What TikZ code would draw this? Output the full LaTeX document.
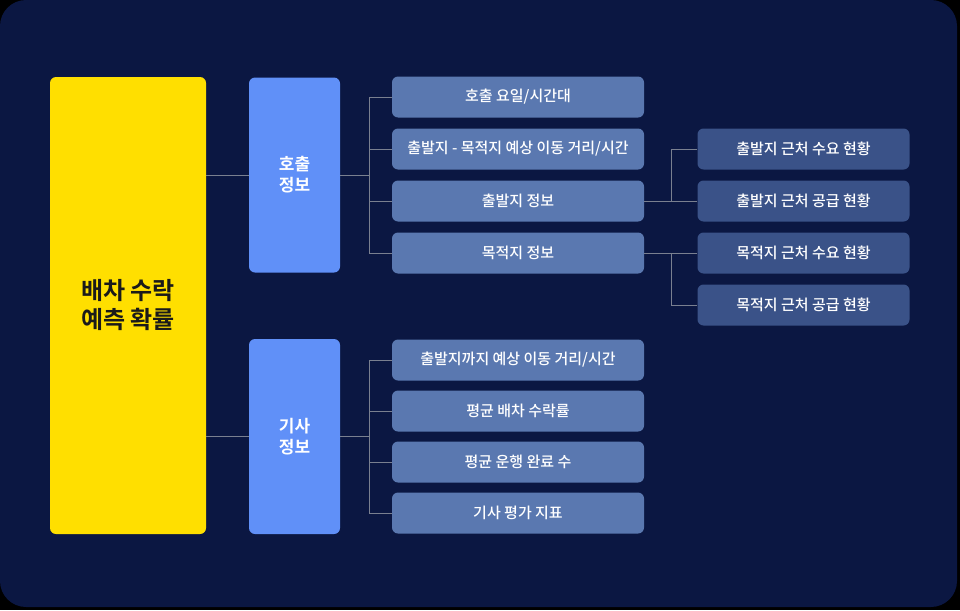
\documentclass[tikz,border=0pt]{standalone}
\usepackage{fontspec}
\usepackage{xcolor}
\usepackage{tikz}
\newfontfamily\krfont{Noto Sans CJK KR Medium}
\newfontfamily\krbold{Noto Sans CJK KR Bold}
\definecolor{navybg}{HTML}{0B1742}
\definecolor{targetyellow}{HTML}{FFDF00}
\definecolor{groupblue}{HTML}{6090F8}
\definecolor{featblue}{HTML}{5A78B0}
\definecolor{subblue}{HTML}{3A5288}
\definecolor{linkgray}{HTML}{7A8090}
\definecolor{darktext}{HTML}{1A1A1A}
\usetikzlibrary{positioning, calc}

\tikzset{
    targetbox/.style={fill=targetyellow, rounded corners=6pt, minimum width=156pt, minimum height=457pt,
        text=darktext, align=center, font=\krbold\fontsize{24}{29}\selectfont},
    groupbox/.style={fill=groupblue, rounded corners=6pt, minimum width=91pt, minimum height=195pt,
        text=white, align=center, font=\krbold\fontsize{17}{21}\selectfont},
    featbox/.style={fill=featblue, rounded corners=6pt, minimum width=252pt, minimum height=41pt,
        text=white, font=\krfont\fontsize{15}{18}\selectfont},
    subbox/.style={fill=subblue, rounded corners=6pt, minimum width=212pt, minimum height=41pt,
        text=white, font=\krfont\fontsize{15}{18}\selectfont},
    link/.style={draw=linkgray, line width=1pt}
}

\begin{document}
\begin{tikzpicture}[x=1pt, y=-1pt]
    % background
    \fill[black] (0,0) rectangle (960,610);
    \fill[navybg, rounded corners=26pt] (0,0) rectangle (957,607);
    \useasboundingbox (0,0) rectangle (960,610);

    % target
    \node[targetbox] (target) at (128,305.5) {배차 수락\\예측 확률};

    % groups
    \node[groupbox] (call) at (294.5,175) {호출\\정보};
    \node[groupbox] (driver) at (294.5,436.5) {기사\\정보};

    % call features
    \node[featbox] (c1) at (518,97) {호출 요일/시간대};
    \node[featbox] (c2) at (518,149) {출발지 - 목적지 예상 이동 거리/시간};
    \node[featbox] (c3) at (518,201) {출발지 정보};
    \node[featbox] (c4) at (518,253) {목적지 정보};

    % origin / destination details
    \node[subbox] (o1) at (803.5,149) {출발지 근처 수요 현황};
    \node[subbox] (o2) at (803.5,201) {출발지 근처 공급 현황};
    \node[subbox] (d1) at (803.5,253) {목적지 근처 수요 현황};
    \node[subbox] (d2) at (803.5,305) {목적지 근처 공급 현황};

    % driver features
    \node[featbox] (f1) at (518,360) {출발지까지 예상 이동 거리/시간};
    \node[featbox] (f2) at (518,411) {평균 배차 수락률};
    \node[featbox] (f3) at (518,462) {평균 운행 완료 수};
    \node[featbox] (f4) at (518,513) {기사 평가 지표};

    % links
    \draw[link] (target.east |- call.west) -- (call.west);
    \draw[link] (target.east |- driver.west) -- (driver.west);
    \foreach \n in {c1,c2,c3,c4}
        \draw[link] (call.east) -- ++(29,0) |- (\n.west);
    \foreach \n in {f1,f2,f3,f4}
        \draw[link] (driver.east) -- ++(29,0) |- (\n.west);
    \draw[link] (c3.east) -- ++(27,0) |- (o1.west);
    \draw[link] (c3.east) -- (o2.west);
    \draw[link] (c4.east) -- (d1.west);
    \draw[link] (c4.east) -- ++(27,0) |- (d2.west);
\end{tikzpicture}
\end{document}
